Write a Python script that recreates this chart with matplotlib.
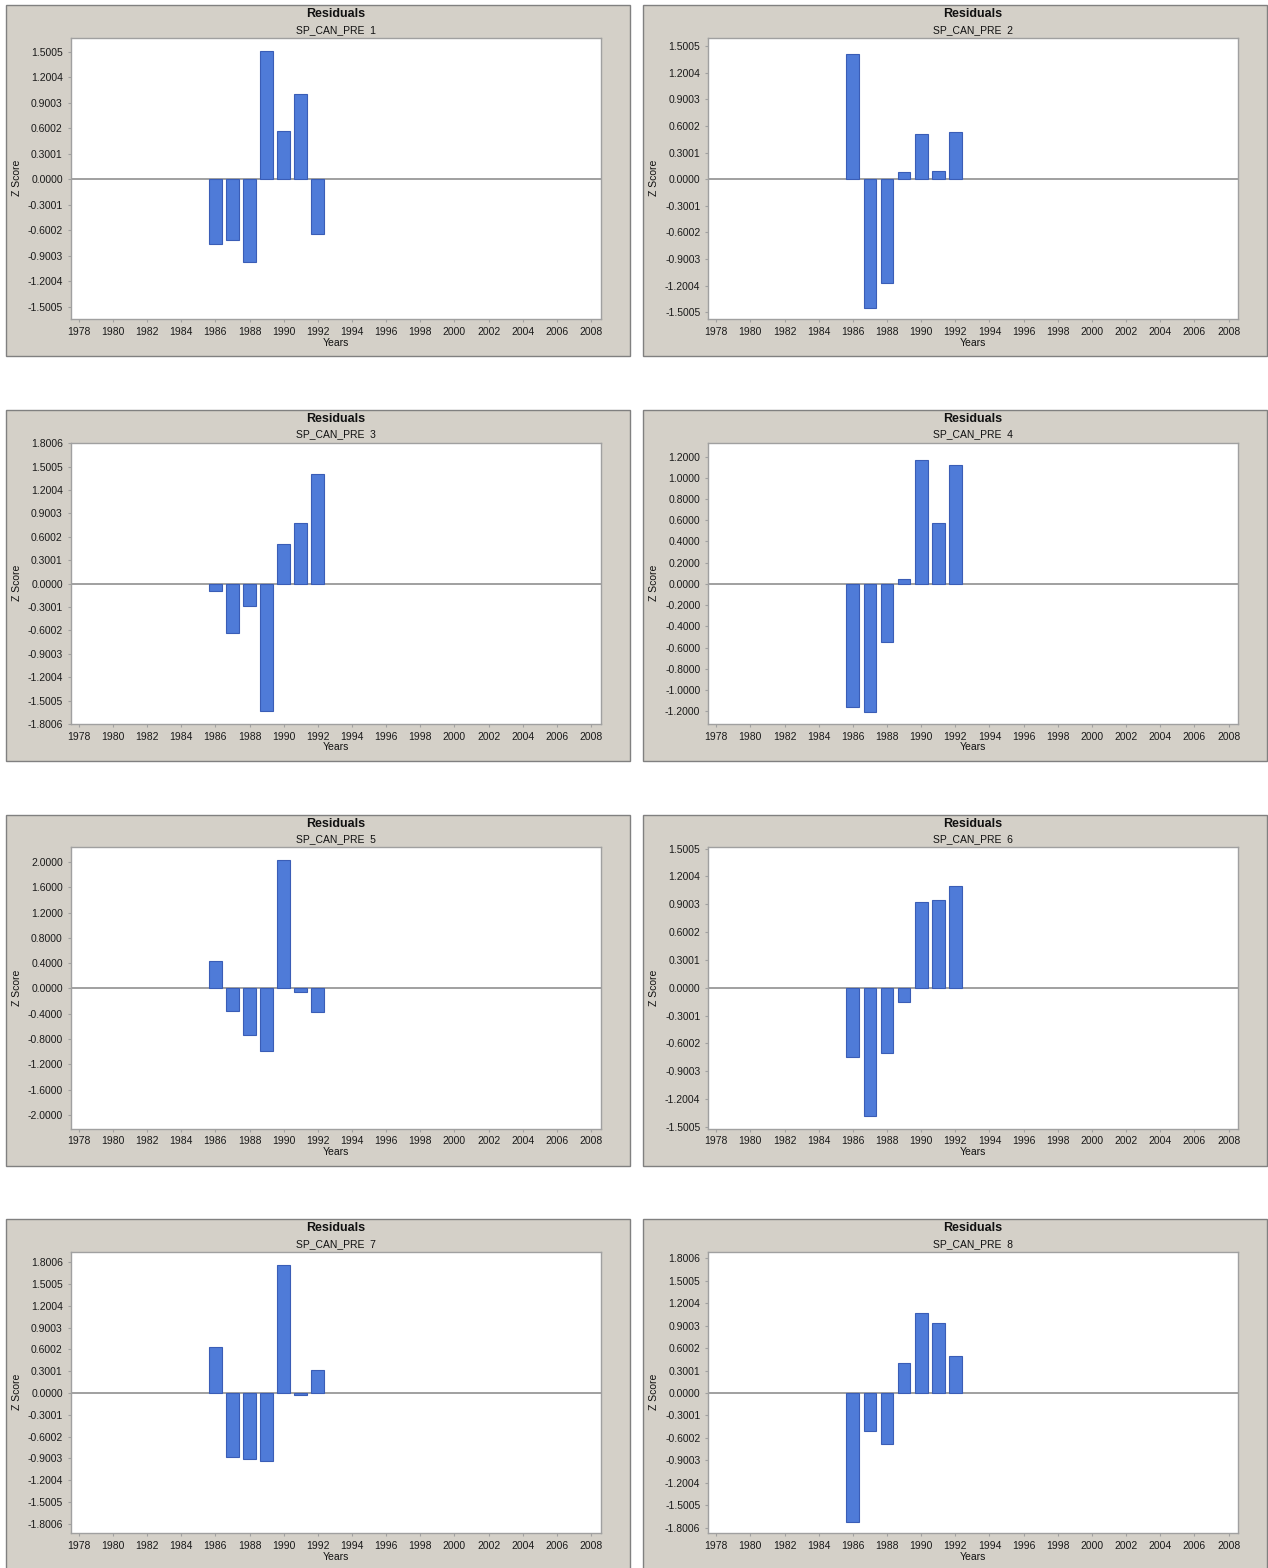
import matplotlib
matplotlib.use("Agg")
import matplotlib.pyplot as plt
from matplotlib.patches import Rectangle

plt.rcParams['font.family'] = ['Liberation Sans', 'DejaVu Sans']

# data
years = [1986, 1987, 1988, 1989, 1990, 1991, 1992]
subtitles = ["SP_CAN_PRE  1", "SP_CAN_PRE  2", "SP_CAN_PRE  3", "SP_CAN_PRE  4",
             "SP_CAN_PRE  5", "SP_CAN_PRE  6", "SP_CAN_PRE  7", "SP_CAN_PRE  8"]
resid_1 = [-0.758, -0.711, -0.974, 1.512, 0.566, 1.005, -0.644]
resid_2 = [1.416, -1.450, -1.168, 0.079, 0.511, 0.090, 0.530]
resid_3 = [-0.098, -0.636, -0.290, -1.636, 0.508, 0.777, 1.410]
resid_4 = [-1.156, -1.210, -0.543, 0.050, 1.166, 0.572, 1.118]
resid_5 = [0.438, -0.354, -0.734, -0.987, 2.026, -0.053, -0.369]
resid_6 = [-0.748, -1.385, -0.705, -0.151, 0.928, 0.950, 1.094]
resid_7 = [0.628, -0.875, -0.912, -0.939, 1.759, -0.032, 0.321]
resid_8 = [-1.720, -0.504, -0.686, 0.397, 1.074, 0.931, 0.499]
residuals = [resid_1, resid_2, resid_3, resid_4, resid_5, resid_6, resid_7, resid_8]

ticks_15 = [-1.5005, -1.2004, -0.9003, -0.6002, -0.3001, 0.0, 0.3001, 0.6002, 0.9003, 1.2004, 1.5005]
ticks_18 = [-1.8006] + ticks_15 + [1.8006]
ticks_12 = [-1.2, -1.0, -0.8, -0.6, -0.4, -0.2, 0.0, 0.2, 0.4, 0.6, 0.8, 1.0, 1.2]
ticks_20 = [-2.0, -1.6, -1.2, -0.8, -0.4, 0.0, 0.4, 0.8, 1.2, 1.6, 2.0]
y_ticks = [ticks_15, ticks_15, ticks_18, ticks_12, ticks_20, ticks_15, ticks_18, ticks_18]
y_limits = [(-1.650, 1.665), (-1.578, 1.593), (-1.794, 1.811), (-1.319, 1.332),
            (-2.216, 2.237), (-1.518, 1.518), (-1.929, 1.942), (-1.876, 1.889)]
x_ticks = list(range(1978, 2010, 2))

W, H = 1268, 1568
fig = plt.figure(figsize=(W / 100, H / 100), dpi=100)
fig.patch.set_facecolor('white')

panel_x = [5.5, 643.0]
panel_y = [5.3, 410.0, 814.5, 1219.3]
panel_w, panel_h = 624.0, 351.0

bar_color = '#4f7bd8'
edge_color = '#3a5db6'
grey = '#a0a0a0'

for i, vals in enumerate(residuals):
    px = panel_x[i % 2]
    py = panel_y[i // 2]

    # grey panel behind each chart
    fig.patches.append(Rectangle((px / W, 1 - (py + panel_h) / H), panel_w / W, panel_h / H,
                                 transform=fig.transFigure, facecolor='#d4d0c8',
                                 edgecolor='#808080', linewidth=1.0, zorder=-5))

    ax = fig.add_axes([(px + 65) / W, 1 - (py + 314) / H, 530 / W, 281.5 / H])
    ax.set_zorder(1)
    ax.set_facecolor('white')
    ax.bar(years, vals, width=0.75, color=bar_color, edgecolor=edge_color, linewidth=0.8, zorder=2)
    ax.axhline(0, color=grey, linewidth=1.4, zorder=1)

    ax.set_xlim(1977.52, 2008.55)
    ax.set_ylim(*y_limits[i])
    ax.set_xticks(x_ticks)
    ax.set_xticklabels([str(t) for t in x_ticks])
    ax.set_yticks(y_ticks[i])
    ax.set_yticklabels([f"{t:.4f}" for t in y_ticks[i]])
    ax.tick_params(axis='both', labelsize=7.5, colors=grey, labelcolor='#1a1a1a',
                   length=2.5, width=0.8)
    ax.tick_params(axis='x', pad=3)
    ax.tick_params(axis='y', pad=3)
    for s in ax.spines.values():
        s.set_color(grey)
        s.set_linewidth(1.0)

    cx = (px + 65 + 265) / W
    fig.text(cx, 1 - (py + 9) / H, "Residuals", ha='center', va='center',
             fontsize=9, fontweight='bold', color='#111111')
    fig.text(cx, 1 - (py + 24.5) / H, subtitles[i], ha='center', va='center',
             fontsize=7.5, color='#111111')
    fig.text(cx, 1 - (py + 337.5) / H, "Years", ha='center', va='center',
             fontsize=7.5, color='#111111')
    fig.text((px + 11) / W, 1 - (py + 173) / H, "Z Score", ha='center', va='center',
             rotation=90, fontsize=7.5, color='#111111')

fig.savefig("out.png", dpi=100, facecolor=fig.get_facecolor())
